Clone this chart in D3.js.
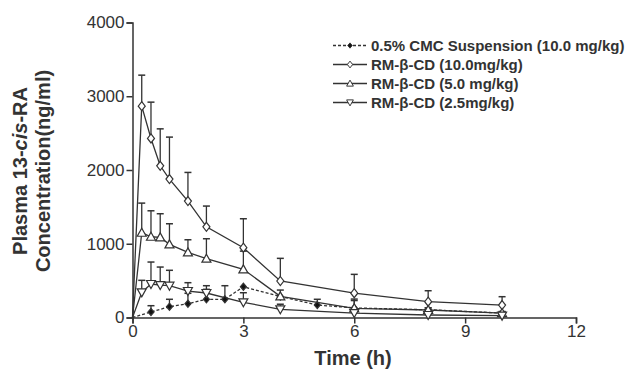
<!DOCTYPE html>
<html>
<head>
<meta charset="utf-8">
<script src="https://cdn.jsdelivr.net/npm/d3@7"></script>
<style>
  body { margin: 0; background: #fff; }
  svg text { font-family: "Liberation Sans", Arial, sans-serif; fill: #333; }
</style>
</head>
<body>
<script>
'use strict';

// time points (h)
var timeCMC = [0, 0.5, 1, 1.5, 2, 2.5, 3, 4, 5, 6, 8, 10];
var timeRM = [0, 0.25, 0.5, 0.75, 1, 1.5, 2, 3, 4, 6, 8, 10];

// mean concentrations (ng/ml) and upper error (mean + SD)
var cmcMean = [0, 75, 146, 187, 247, 247, 417, 285, 169, 130, 105, 60];
var cmcUpper = [0, 160, 247, 328, 382, 431, 417, 285, 247, 230, 130, 80];

var rm10Mean = [0, 2866, 2428, 2057, 1877, 1579, 1230, 946, 495, 330, 214, 169];
var rm10Upper = [0, 3286, 2920, 2558, 2446, 1967, 1511, 1339, 802, 585, 363, 282];

var rm5Mean = [0, 1149, 1095, 1087, 992, 883, 797, 653, 287, 125, 102, 60];
var rm5Upper = [0, 1551, 1447, 1407, 1271, 1054, 1068, 900, 372, 250, 130, 80];

var rm25Mean = [0, 341, 454, 440, 431, 359, 332, 206, 111, 60, 34, 25];
var rm25Upper = [0, 504, 752, 684, 640, 472, 431, 336, 180, 90, 50, 40];

var legendLabels = [
  '0.5% CMC Suspension (10.0 mg/kg)',
  'RM-\u03b2-CD (10.0mg/kg)',
  'RM-\u03b2-CD (5.0 mg/kg)',
  'RM-\u03b2-CD (2.5mg/kg)'
];

var xTicks = [0, 3, 6, 9, 12];
var yTicks = [0, 1000, 2000, 3000, 4000];

var width = 631;
var height = 371;
var ink = '#333';

var x = d3.scaleLinear().domain([0, 12]).range([132.5, 576]);
var y = d3.scaleLinear().domain([0, 4000]).range([317.5, 22.5]);

var svg = d3.select('body').append('svg')
  .attr('width', width)
  .attr('height', height);

function zip(t, m, u) {
  return t.map(function(d, i) { return { t: d, m: m[i], u: u[i] }; });
}

var series = [
  { name: 'cmc', pts: zip(timeCMC, cmcMean, cmcUpper), dash: '3,2', marker: 'fdiamond' },
  { name: 'rm10', pts: zip(timeRM, rm10Mean, rm10Upper), dash: null, marker: 'diamond' },
  { name: 'rm5', pts: zip(timeRM, rm5Mean, rm5Upper), dash: null, marker: 'up' },
  { name: 'rm25', pts: zip(timeRM, rm25Mean, rm25Upper), dash: null, marker: 'down' }
];

function markerPath(type) {
  if (type === 'diamond') return 'M0,-4.5L3.5,0L0,4.5L-3.5,0Z';
  if (type === 'fdiamond') return 'M0,-3.5L3,0L0,3.5L-3,0Z';
  if (type === 'up') return 'M0,-4.5L4.5,3.5L-4.5,3.5Z';
  return 'M0,4.5L4.5,-3.5L-4.5,-3.5Z';
}

// axes
var yAxis = svg.append('g')
  .attr('transform', 'translate(' + x(0) + ',0)')
  .call(d3.axisLeft(y).tickValues(yTicks).tickSize(6).tickPadding(2).tickFormat(d3.format('d')));
var xAxis = svg.append('g')
  .attr('transform', 'translate(0,' + y(0) + ')')
  .call(d3.axisBottom(x).tickValues(xTicks).tickSize(6).tickPadding(1));

[xAxis, yAxis].forEach(function(a) {
  a.select('.domain').attr('stroke', ink).attr('stroke-width', 1.5);
  a.selectAll('.tick line').attr('stroke', ink).attr('stroke-width', 1.5);
  a.selectAll('.tick text').style('font-size', '17px').attr('fill', '#444');
});

var line = d3.line()
  .x(function(d) { return x(d.t); })
  .y(function(d) { return y(d.m); });

series.forEach(function(s) {
  svg.append('path')
    .datum(s.pts)
    .attr('d', line)
    .attr('fill', 'none')
    .attr('stroke', ink)
    .attr('stroke-width', 1.3)
    .attr('stroke-dasharray', s.dash);
});

series.forEach(function(s) {
  var bars = svg.append('g').selectAll('g')
    .data(s.pts.filter(function(d) { return d.u > d.m; }))
    .enter().append('g');
  bars.append('line')
    .attr('x1', function(d) { return x(d.t); })
    .attr('x2', function(d) { return x(d.t); })
    .attr('y1', function(d) { return y(d.m); })
    .attr('y2', function(d) { return y(d.u); })
    .attr('stroke', ink).attr('stroke-width', 1.3);
  bars.append('line')
    .attr('x1', function(d) { return x(d.t) - 3.5; })
    .attr('x2', function(d) { return x(d.t) + 3.5; })
    .attr('y1', function(d) { return y(d.u); })
    .attr('y2', function(d) { return y(d.u); })
    .attr('stroke', ink).attr('stroke-width', 1.5);
});

series.forEach(function(s) {
  svg.append('g').selectAll('path')
    .data(s.pts.filter(function(d) { return d.t > 0; }))
    .enter().append('path')
    .attr('d', markerPath(s.marker))
    .attr('transform', function(d) { return 'translate(' + x(d.t) + ',' + y(d.m) + ')'; })
    .attr('fill', s.marker === 'fdiamond' ? '#111' : '#fff')
    .attr('stroke', ink)
    .attr('stroke-width', 1.2);
});

// legend
var legend = svg.append('g').selectAll('g')
  .data(series)
  .enter().append('g')
  .attr('transform', function(d, i) { return 'translate(333,' + (45.5 + i * 19) + ')'; });
legend.append('line')
  .attr('x1', 0).attr('x2', 34)
  .attr('stroke', ink).attr('stroke-width', 1.3)
  .attr('stroke-dasharray', function(d) { return d.dash; });
legend.append('path')
  .attr('d', function(d) { return markerPath(d.marker); })
  .attr('transform', 'translate(17,0) scale(0.75)')
  .attr('fill', function(d) { return d.marker === 'fdiamond' ? '#111' : '#fff'; })
  .attr('stroke', ink).attr('stroke-width', 1.3);
legend.append('text')
  .attr('x', 38).attr('y', 5)
  .style('font-size', '15px').style('font-weight', 'bold')
  .text(function(d, i) { return legendLabels[i]; });

// axis titles
svg.append('text')
  .attr('x', 353).attr('y', 365)
  .attr('text-anchor', 'middle')
  .style('font-size', '20px').style('font-weight', 'bold')
  .text('Time (h)');

var yt = svg.append('text')
  .attr('transform', 'translate(27,171) rotate(-90)')
  .attr('text-anchor', 'middle')
  .style('font-size', '20px').style('font-weight', 'bold');
var l1 = yt.append('tspan').attr('x', 0).attr('dy', 0);
l1.append('tspan').text('Plasma 13-');
l1.append('tspan').style('font-style', 'italic').text('cis');
l1.append('tspan').text('-RA');
yt.append('tspan').attr('x', 0).attr('dy', 23).text('Concentration(ng/ml)');
</script>
</body>
</html>
